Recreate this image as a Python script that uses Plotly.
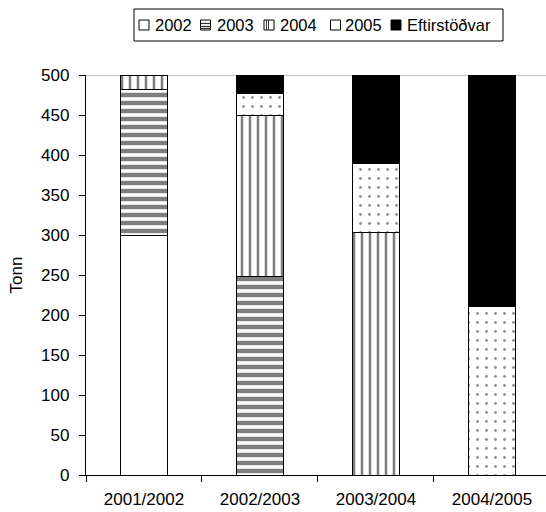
import plotly.graph_objects as go

# Season labels and landed tonnes per allocation year (stacked to 500)
seasons = ["2001/2002", "2002/2003", "2003/2004", "2004/2005"]
t2002 = [300, None, None, None]
t2003 = [182, 248, None, None]
t2004 = [18, 202, 303, None]
t2005 = [None, 27, 86, 211]
eftirstodvar = [None, 23, 111, 289]

series_names = ["2002", "2003", "2004", "2005", "Eftirstöðvar"]
y_ticks = [0, 50, 100, 150, 200, 250, 300, 350, 400, 450, 500]

FONT = "Liberation Sans, Arial, sans-serif"
W, H = 546, 512
L, R, T, B = 86, 0, 75, 37


def px_x(px):
    return (px - L) / (W - L - R)


def px_y(py):
    return (H - B - py) / (H - T - B)


line = dict(color="black", width=1)
fig = go.Figure()
fig.add_bar(x=seasons, y=t2002, name=series_names[0],
            marker=dict(color="white", line=line))
fig.add_bar(x=seasons, y=t2003, name=series_names[1],
            marker=dict(color="white", line=line,
                        pattern=dict(shape="-", size=8, solidity=0.55,
                                     fgcolor="black", bgcolor="white")))
fig.add_bar(x=seasons, y=t2004, name=series_names[2],
            marker=dict(color="white", line=line,
                        pattern=dict(shape="|", size=8, solidity=0.32,
                                     fgcolor="black", bgcolor="white")))
fig.add_bar(x=seasons, y=t2005, name=series_names[3],
            marker=dict(color="white", line=line,
                        pattern=dict(shape=".", size=9, solidity=0.08,
                                     fgcolor="#222222", bgcolor="white")))
fig.add_bar(x=seasons, y=eftirstodvar, name=series_names[4],
            marker=dict(color="black", line=line))

# Top boundary line of the plotting area
shapes = [dict(type="line", xref="paper", yref="y", x0=0, x1=1, y0=500, y1=500,
               line=dict(color="#8c8c8c", width=1.2), layer="below")]

# Hand-built legend row
shapes.append(dict(type="rect", xref="paper", yref="paper",
                   x0=px_x(134), x1=px_x(503), y0=px_y(9), y1=px_y(41),
                   line=dict(color="black", width=1), fillcolor="white"))
icon_cx = [144, 205.5, 269, 335.5, 396]
text_x = [153, 215, 278, 343, 405]
cy = 25
half = 5
annotations = []
for i, name in enumerate(series_names):
    cx = icon_cx[i]
    fill = "black" if i == 4 else "white"
    shapes.append(dict(type="rect", xref="paper", yref="paper",
                       x0=px_x(cx - half), x1=px_x(cx + half),
                       y0=px_y(cy - half), y1=px_y(cy + half),
                       line=dict(color="black", width=1), fillcolor=fill))
    if i == 1:
        for dy in (-1.5, 1.5, 3.5):
            shapes.append(dict(type="line", xref="paper", yref="paper",
                               x0=px_x(cx - half), x1=px_x(cx + half),
                               y0=px_y(cy + dy), y1=px_y(cy + dy),
                               line=dict(color="#333333", width=1.2)))
    if i == 2:
        for dx in (-2.5, -0.5):
            shapes.append(dict(type="line", xref="paper", yref="paper",
                               x0=px_x(cx + dx), x1=px_x(cx + dx),
                               y0=px_y(cy - half), y1=px_y(cy + half),
                               line=dict(color="#333333", width=1)))
    annotations.append(dict(text=name, xref="paper", yref="paper",
                            x=px_x(text_x[i]), y=px_y(cy), xanchor="left",
                            yanchor="middle", showarrow=False,
                            font=dict(size=16.5, color="black", family=FONT)))

fig.update_layout(
    width=W, height=H,
    margin=dict(l=L, r=R, t=T, b=B, pad=0),
    paper_bgcolor="white", plot_bgcolor="white",
    barmode="stack", bargap=0.595,
    showlegend=False,
    font=dict(family=FONT, size=17, color="black"),
    shapes=shapes, annotations=annotations,
)
fig.update_xaxes(
    type="category", range=[-0.5, 3.466], tickson="boundaries",
    ticks="outside", ticklen=6, tickcolor="black", tickwidth=1,
    showline=True, linecolor="black", linewidth=1.3,
    showgrid=False, ticklabelstandoff=8,
)
fig.update_yaxes(
    range=[0, 500], tickvals=y_ticks,
    ticks="outside", ticklen=6, tickcolor="black", tickwidth=1,
    showline=True, linecolor="black", linewidth=1.3,
    showgrid=False, zeroline=False, ticklabelstandoff=6,
    title=dict(text="Tonn", standoff=14, font=dict(size=17)),
)

fig.write_html("out.html")
